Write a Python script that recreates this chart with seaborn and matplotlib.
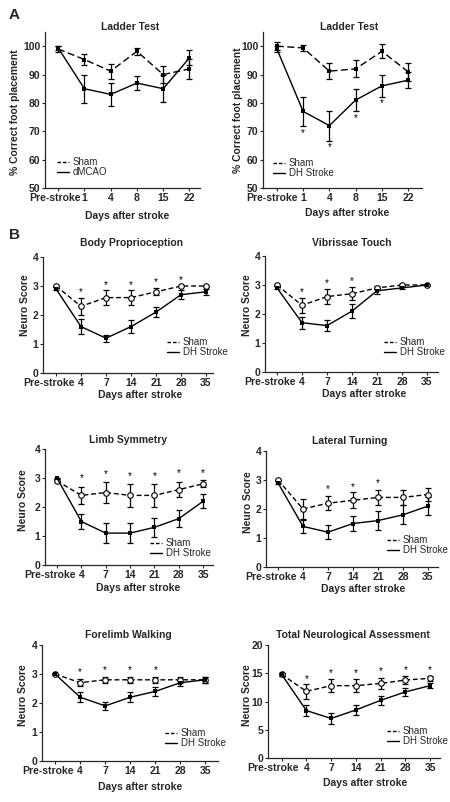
import matplotlib
matplotlib.use("Agg")
import matplotlib.pyplot as plt
from matplotlib.lines import Line2D
from matplotlib.transforms import ScaledTranslation
import seaborn as sns

sns.set_style("ticks")
plt.rcParams['font.family'] = ['Liberation Sans', 'DejaVu Sans']

W, H = 450, 802

# x categories
ladder_days = ["Pre-stroke", "1", "4", "8", "15", "22"]
neuro_days = ["Pre-stroke", "4", "7", "14", "21", "28", "35"]

# A left: ladder test, dMCAO
lad1_sham = [99.0, 95.3, 91.2, 98.2, 90.0, 92.0]
lad1_sham_err = [1.0, 1.8, 2.6, 1.2, 2.9, 3.5]
lad1_stroke = [99.4, 85.0, 83.0, 87.0, 85.0, 95.9]
lad1_stroke_err = [0.8, 5.0, 4.0, 2.6, 4.7, 2.7]

# A right: ladder test, DH stroke
lad2_sham = [100.0, 99.4, 91.2, 92.0, 98.2, 91.0]
lad2_sham_err = [1.3, 1.0, 2.8, 3.0, 2.5, 3.2]
lad2_stroke = [99.0, 77.0, 72.0, 81.0, 86.0, 88.0]
lad2_stroke_err = [1.0, 5.0, 5.3, 4.0, 4.0, 2.8]
lad2_star_x = [1, 2, 3, 4]
lad2_star_y = [69.5, 64.5, 74.5, 80.0]

# B: neuro scores
body_sham = [3.0, 2.3, 2.6, 2.6, 2.8, 3.0, 3.0]
body_sham_err = [0.0, 0.3, 0.25, 0.25, 0.12, 0.0, 0.0]
body_stroke = [2.9, 1.6, 1.2, 1.6, 2.1, 2.7, 2.8]
body_stroke_err = [0.05, 0.27, 0.12, 0.22, 0.17, 0.15, 0.1]
body_star_x = [1, 2, 3, 4, 5]
body_star_y = [2.78, 3.02, 3.02, 3.12, 3.22]

vib_sham = [3.0, 2.3, 2.6, 2.7, 2.9, 3.0, 3.0]
vib_sham_err = [0.0, 0.25, 0.27, 0.22, 0.05, 0.0, 0.0]
vib_stroke = [2.9, 1.7, 1.6, 2.1, 2.8, 2.9, 3.0]
vib_stroke_err = [0.05, 0.2, 0.2, 0.23, 0.1, 0.05, 0.0]
vib_star_x = [1, 2, 3]
vib_star_y = [2.74, 3.05, 3.12]

limb_sham = [2.9, 2.4, 2.5, 2.4, 2.4, 2.6, 2.8]
limb_sham_err = [0.05, 0.3, 0.35, 0.4, 0.4, 0.27, 0.12]
limb_stroke = [3.0, 1.5, 1.1, 1.1, 1.3, 1.6, 2.2]
limb_stroke_err = [0.0, 0.27, 0.35, 0.35, 0.33, 0.3, 0.25]
limb_star_x = [1, 2, 3, 4, 5, 6]
limb_star_y = [3.0, 3.12, 3.08, 3.08, 3.16, 3.16]

lat_sham = [3.0, 2.0, 2.2, 2.3, 2.4, 2.4, 2.5]
lat_sham_err = [0.0, 0.33, 0.25, 0.27, 0.27, 0.27, 0.22]
lat_stroke = [2.9, 1.4, 1.2, 1.5, 1.6, 1.8, 2.1]
lat_stroke_err = [0.05, 0.22, 0.25, 0.27, 0.32, 0.33, 0.3]
lat_star_x = [2, 3, 4]
lat_star_y = [2.68, 2.76, 2.9]

fore_sham = [3.0, 2.7, 2.8, 2.8, 2.8, 2.8, 2.8]
fore_sham_err = [0.0, 0.12, 0.1, 0.1, 0.1, 0.1, 0.1]
fore_stroke = [3.0, 2.2, 1.9, 2.2, 2.4, 2.7, 2.8]
fore_stroke_err = [0.0, 0.18, 0.15, 0.17, 0.15, 0.12, 0.1]
fore_star_x = [1, 2, 3, 4]
fore_star_y = [3.05, 3.12, 3.12, 3.12]

total_sham = [14.8, 11.8, 12.8, 12.8, 13.2, 13.8, 14.1]
total_sham_err = [0.2, 1.3, 1.2, 1.2, 1.0, 0.7, 0.5]
total_stroke = [14.8, 8.4, 7.0, 8.5, 10.2, 11.7, 12.8]
total_stroke_err = [0.2, 1.0, 0.9, 0.9, 0.8, 0.7, 0.4]
total_star_x = [1, 2, 3, 4, 5, 6]
total_star_y = [14.0, 15.0, 15.0, 15.4, 15.6, 15.6]

fig = plt.figure(figsize=(W / 100, H / 100), dpi=100)


def px_axes(left, top, right, bottom):
    # axes from pixel box
    return fig.add_axes([left / W, 1 - bottom / H, (right - left) / W, (bottom - top) / H])


def draw_panel(box, days, sham, sham_err, stroke, stroke_err, yticks, ylim,
               xlim, stroke_name, sham_open, stars, title, title_xy,
               xlabel_xy, ylabel, ylabel_xy, legend_xy, pre_shift):
    ax = px_axes(*box)
    xs = list(range(len(days)))

    ax.errorbar(xs, sham, yerr=sham_err, fmt='none', ecolor='black',
                elinewidth=0.9, capsize=2, capthick=0.9, zorder=2)
    ax.errorbar(xs, stroke, yerr=stroke_err, fmt='none', ecolor='black',
                elinewidth=0.9, capsize=2, capthick=0.9, zorder=2)

    if sham_open:
        sns.lineplot(x=xs, y=sham, ax=ax, color='black', linestyle=(0, (3.5, 2)),
                     linewidth=1, marker='o', markersize=4, markerfacecolor='white',
                     markeredgecolor='black', markeredgewidth=0.8, zorder=3)
    else:
        sns.lineplot(x=xs, y=sham, ax=ax, color='black', linestyle=(0, (5, 2.5)),
                     linewidth=1, marker='s', markersize=2.5, markeredgewidth=0,
                     zorder=3)
    sns.lineplot(x=xs, y=stroke, ax=ax, color='black', linewidth=1, marker='s',
                 markersize=3, markeredgewidth=0, zorder=3)

    if stars is not None:
        for sx, sy in zip(*stars):
            ax.text(sx, sy, '*', ha='center', va='center', fontsize=7, color='black')

    ax.set_xlim(*xlim)
    ax.set_ylim(*ylim)
    ax.set_xticks(xs)
    ax.set_xticklabels(days, fontsize=7.5, fontweight='bold')
    ax.set_yticks(yticks)
    ax.set_yticklabels([str(t) for t in yticks], fontsize=7.5, fontweight='bold')
    ax.tick_params(length=2.5, width=0.8, pad=1)
    for s in ['left', 'bottom']:
        ax.spines[s].set_linewidth(0.9)
    sns.despine(ax=ax)

    # "Pre-stroke" sits to the left of its tick, right edge just past the point
    pre = ax.get_xticklabels()[0]
    pre.set_ha('right')
    pre.set_transform(pre.get_transform() + ScaledTranslation(pre_shift / 100, 0, fig.dpi_scale_trans))

    fig.text(title_xy[0] / W, 1 - title_xy[1] / H, title, ha='center', va='center',
             fontsize=7.5, fontweight='bold')
    fig.text(xlabel_xy[0] / W, 1 - xlabel_xy[1] / H, 'Days after stroke', ha='center',
             va='center', fontsize=7.5, fontweight='bold')
    fig.text(ylabel_xy[0] / W, 1 - ylabel_xy[1] / H, ylabel, ha='center', va='center',
             rotation=90, fontsize=7.5, fontweight='bold')

    handles = [Line2D([], [], color='black', linewidth=1, linestyle=(0, (2.5, 1.5))),
               Line2D([], [], color='black', linewidth=1)]
    ax.legend(handles, ['Sham', stroke_name], loc='upper left',
              bbox_to_anchor=(legend_xy[0] / W, 1 - legend_xy[1] / H),
              bbox_transform=fig.transFigure, frameon=False, fontsize=7,
              handlelength=1.2, handletextpad=0.4, labelspacing=0.0,
              borderpad=0, borderaxespad=0)
    return ax


ladder_ticks = [50, 60, 70, 80, 90, 100]
neuro_ticks = [0, 1, 2, 3, 4]

draw_panel((45, 32, 200, 188), ladder_days, lad1_sham, lad1_sham_err, lad1_stroke,
           lad1_stroke_err, ladder_ticks, (50, 105), (-0.5, 5.4), 'dMCAO', False, None,
           'Ladder Test', (130, 27), (127, 216), '% Correct foot placement', (15, 112),
           (57, 157), 23)
draw_panel((263, 32, 422, 188), ladder_days, lad2_sham, lad2_sham_err, lad2_stroke,
           lad2_stroke_err, ladder_ticks, (50, 105), (-0.53, 5.53), 'DH Stroke', False,
           (lad2_star_x, lad2_star_y), 'Ladder Test', (349, 27), (347, 213),
           '% Correct foot placement', (238, 110), (273, 158), 21)

draw_panel((43, 257, 213, 373), neuro_days, body_sham, body_sham_err, body_stroke,
           body_stroke_err, neuro_ticks, (0, 4), (-0.52, 6.28), 'DH Stroke', True,
           (body_star_x, body_star_y), 'Body Proprioception', (131, 243), (140, 395),
           'Neuro Score', (25, 305), (167, 337), 19)
draw_panel((265, 256, 438, 372), neuro_days, vib_sham, vib_sham_err, vib_stroke,
           vib_stroke_err, neuro_ticks, (0, 4), (-0.48, 6.44), 'DH Stroke', True,
           (vib_star_x, vib_star_y), 'Vibrissae Touch', (352, 243), (364, 394),
           'Neuro Score', (247, 305), (384, 337), 19)

draw_panel((45, 449, 213, 565), neuro_days, limb_sham, limb_sham_err, limb_stroke,
           limb_stroke_err, neuro_ticks, (0, 4), (-0.49, 6.4), 'DH Stroke', True,
           (limb_star_x, limb_star_y), 'Limb Symmetry', (128, 440), (138, 588),
           'Neuro Score', (23, 500), (150, 538), 19)
draw_panel((266, 451, 438, 567), neuro_days, lat_sham, lat_sham_err, lat_stroke,
           lat_stroke_err, neuro_ticks, (0, 4), (-0.48, 6.4), 'DH Stroke', True,
           (lat_star_x, lat_star_y), 'Lateral Turning', (350, 441), (363, 589),
           'Neuro Score', (248, 502), (387, 535), 19)

draw_panel((42, 645, 218, 761), neuro_days, fore_sham, fore_sham_err, fore_stroke,
           fore_stroke_err, neuro_ticks, (0, 4), (-0.52, 6.5), 'DH Stroke', True,
           (fore_star_x, fore_star_y), 'Forelimb Walking', (128, 635), (140, 787),
           'Neuro Score', (23, 695), (165, 728), 19)
draw_panel((268, 645, 440, 758), neuro_days, total_sham, total_sham_err, total_stroke,
           total_stroke_err, [0, 5, 10, 15, 20], (0, 20), (-0.55, 6.4), 'DH Stroke', True,
           (total_star_x, total_star_y), 'Total Neurological Assessment', (353, 635),
           (365, 783), 'Neuro Score', (247, 695), (387, 726), 17)

fig.text(9 / W, 1 - 15 / H, 'A', fontsize=11, fontweight='bold', va='center')
fig.text(9 / W, 1 - 235 / H, 'B', fontsize=11, fontweight='bold', va='center')

fig.savefig('out.png', dpi=100)
